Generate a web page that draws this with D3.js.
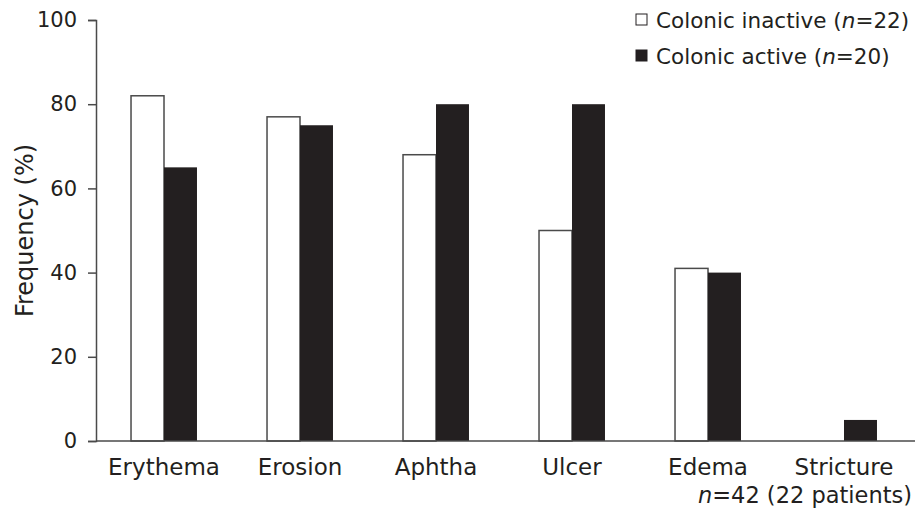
<!DOCTYPE html>
<html>
<head>
<meta charset="utf-8">
<script src="https://cdn.jsdelivr.net/npm/d3@7"></script>
<style>
  body { margin: 0; background: #fff; }
  text { font-family: "DejaVu Sans", Verdana, sans-serif; fill: #231f20; }
</style>
</head>
<body>
<div id="chart"></div>
<script>
// Data
const categories = ['Erythema', 'Erosion', 'Aphtha', 'Ulcer', 'Edema', 'Stricture'];
const inactive = [82, 77, 68, 50, 41, 0];   // Colonic inactive (n=22)
const active = [65, 75, 80, 80, 40, 5];     // Colonic active (n=20)
const yTicks = [0, 20, 40, 60, 80, 100];

const width = 915, height = 510;
const margin = { top: 20, right: 3, bottom: 69, left: 96 };
const ink = '#231f20';
const axisColor = '#4a4a4a';

const svg = d3.select('#chart').append('svg')
    .attr('width', width)
    .attr('height', height);

const x = d3.scaleBand()
    .domain(categories)
    .range([margin.left, width - margin.right])
    .paddingInner(0.515)
    .paddingOuter(0.2575);

const y = d3.scaleLinear()
    .domain([0, 100])
    .range([height - margin.bottom, margin.top]);

const half = x.bandwidth() / 2;

// Bars
const groups = svg.append('g').selectAll('g')
    .data(categories.map((c, i) => ({ cat: c, inactive: inactive[i], active: active[i] })))
    .join('g');

groups.filter(d => d.inactive > 0).append('rect')
    .attr('x', d => x(d.cat))
    .attr('y', d => y(d.inactive))
    .attr('width', half)
    .attr('height', d => y(0) - y(d.inactive))
    .attr('fill', '#fff')
    .attr('stroke', axisColor)
    .attr('stroke-width', 1.5);

groups.append('rect')
    .attr('x', d => x(d.cat) + half)
    .attr('y', d => y(d.active))
    .attr('width', half)
    .attr('height', d => y(0) - y(d.active))
    .attr('fill', ink);

// Y axis
const yAxis = svg.append('g')
    .attr('transform', `translate(${margin.left},0)`)
    .call(d3.axisLeft(y).tickValues(yTicks).tickSize(8).tickPadding(11));
yAxis.select('.domain').attr('stroke', axisColor).attr('stroke-width', 1.5);
yAxis.selectAll('.tick line').attr('stroke', axisColor).attr('stroke-width', 1.5);
yAxis.selectAll('.tick text')
    .style('font-size', '21px')
    .attr('fill', ink)
    .attr('font-family', '"DejaVu Sans", Verdana, sans-serif');

// X axis line
svg.append('line')
    .attr('x1', margin.left).attr('x2', width)
    .attr('y1', y(0)).attr('y2', y(0))
    .attr('stroke', axisColor)
    .attr('stroke-width', 1.5);

// Category labels
svg.append('g').selectAll('text')
    .data(categories)
    .join('text')
    .attr('x', d => x(d) + half)
    .attr('y', y(0) + 34)
    .attr('text-anchor', 'middle')
    .style('font-size', '23px')
    .text(d => d);

// Footnote
const note = svg.append('text')
    .attr('x', 912)
    .attr('y', y(0) + 62)
    .attr('text-anchor', 'end')
    .style('font-size', '22.5px');
note.append('tspan').style('font-style', 'italic').text('n');
note.append('tspan').text('=42 (22 patients)');

// Y label
svg.append('text')
    .attr('transform', `translate(33,${(y(0) + y(100)) / 2}) rotate(-90)`)
    .attr('text-anchor', 'middle')
    .style('font-size', '24px')
    .text('Frequency (%)');

// Legend
const legend = [
    { label: 'Colonic inactive (', n: '22', fill: '#fff' },
    { label: 'Colonic active (', n: '20', fill: ink }
];
const lg = svg.append('g').selectAll('g')
    .data(legend)
    .join('g')
    .attr('transform', (d, i) => `translate(636,${20 + i * 36})`);

lg.append('rect')
    .attr('x', 0).attr('y', -6)
    .attr('width', 11).attr('height', 11)
    .attr('fill', d => d.fill)
    .attr('stroke', ink)
    .attr('stroke-width', 1);

const lt = lg.append('text')
    .attr('x', 20)
    .attr('y', 7.5)
    .style('font-size', '21.5px');
lt.append('tspan').text(d => d.label);
lt.append('tspan').style('font-style', 'italic').text('n');
lt.append('tspan').text(d => '=' + d.n + ')');
</script>
</body>
</html>
